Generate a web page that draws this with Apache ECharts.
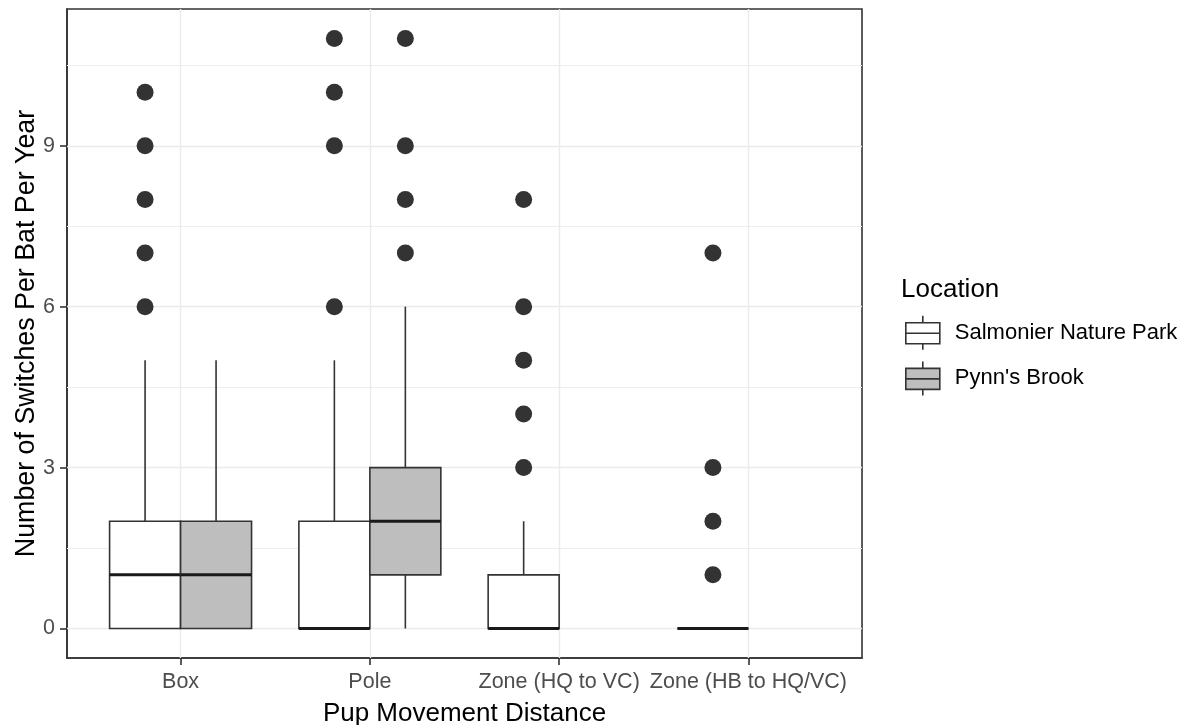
<!DOCTYPE html>
<html>
<head>
<meta charset="utf-8">
<title>Pup Movement Distance</title>
<script src="https://cdn.jsdelivr.net/npm/echarts@6/dist/echarts.min.js"></script>
<style>
  html, body { margin: 0; padding: 0; background: #ffffff; }
  #chart { width: 1188px; height: 725px; }
</style>
</head>
<body>
<div id="chart"></div>
<script>
// Categories along the x axis and the two locations compared in each.
const categories = ['Box', 'Pole', 'Zone (HQ to VC)', 'Zone (HB to HQ/VC)'];
const locations = ['Salmonier Nature Park', "Pynn's Brook"];

// Five-number summaries: [lower whisker, Q1, median, Q3, upper whisker]; null = no data.
const salmonierBoxes = [[0, 0, 1, 2, 5], [0, 0, 0, 2, 5], [0, 0, 0, 1, 2], [0, 0, 0, 0, 0]];
const pynnsBoxes = [[0, 0, 1, 2, 5], [0, 1, 2, 3, 6], null, null];

// Outlying observations for each category.
const salmonierOutliers = [[6, 7, 8, 9, 10], [6, 9, 10, 11], [3, 4, 5, 6, 8], [1, 2, 3, 7]];
const pynnsOutliers = [[], [7, 8, 9, 11], [], []];

// Axis ticks and minor grid positions.
const yTicks = [0, 3, 6, 9];
const yMinor = [1.5, 4.5, 7.5, 10.5];
const xTicks = [1, 2, 3, 4];

const DODGE = 0.75;           // total width shared by the two boxes of a category
const BOX_W = DODGE / 2;      // width of a single box
const EDGE = '#333333';
const FONT = 'Liberation Sans, Arial, sans-serif';

function offsetFor(groupIdx) {
  return (groupIdx - 0.5) * BOX_W;
}

function boxRows(stats, groupIdx) {
  const rows = [];
  stats.forEach((s, i) => {
    if (s) rows.push([i + 1 + offsetFor(groupIdx)].concat(s));
  });
  return rows;
}

function outlierRows(list, groupIdx) {
  const rows = [];
  list.forEach((vals, i) => {
    vals.forEach(v => rows.push([i + 1 + offsetFor(groupIdx), v]));
  });
  return rows;
}

function makeRenderer(fill) {
  return function (params, api) {
    const x = api.value(0);
    const lo = api.coord([x, api.value(1)]);
    const q1 = api.coord([x, api.value(2)]);
    const med = api.coord([x, api.value(3)]);
    const q3 = api.coord([x, api.value(4)]);
    const hi = api.coord([x, api.value(5)]);
    const half = api.size([BOX_W, 0])[0] / 2;
    const edge = { stroke: EDGE, lineWidth: 1.6 };
    return {
      type: 'group',
      children: [
        { type: 'line', shape: { x1: lo[0], y1: lo[1], x2: q1[0], y2: q1[1] }, style: edge },
        { type: 'line', shape: { x1: q3[0], y1: q3[1], x2: hi[0], y2: hi[1] }, style: edge },
        { type: 'rect', shape: { x: q3[0] - half, y: q3[1], width: half * 2, height: q1[1] - q3[1] },
          style: { fill: fill, stroke: EDGE, lineWidth: 1.6 } },
        { type: 'line', shape: { x1: med[0] - half, y1: med[1], x2: med[0] + half, y2: med[1] },
          style: { stroke: '#1a1a1a', lineWidth: 3 } }
      ]
    };
  };
}

// Legend glyph: a small box with median line and whisker stubs.
const boxGlyph = 'path://M0 7 H34 V28 H0 Z M0 17.5 H34 M17 0 V7 M17 28 V34';

const chart = echarts.init(document.getElementById('chart'), null, { renderer: 'canvas' });

const gridLines = []
  .concat(yTicks.map(v => ({ yAxis: v, lineStyle: { type: 'solid', width: 1.4, color: '#ebebeb' } })))
  .concat(yMinor.map(v => ({ yAxis: v, lineStyle: { type: 'solid', width: 1, color: '#eeeeee' } })))
  .concat(xTicks.map(v => ({ xAxis: v, lineStyle: { type: 'solid', width: 1.4, color: '#ebebeb' } })));

const option = {
  animation: false,
  backgroundColor: '#ffffff',
  textStyle: { fontFamily: FONT },
  title: {
    text: 'Location',
    left: 901,
    top: 277,
    padding: 0,
    textStyle: { fontSize: 26, fontWeight: 'normal', color: '#000000', fontFamily: FONT }
  },
  legend: {
    orient: 'vertical',
    left: 905,
    top: 315,
    padding: 0,
    itemWidth: 34,
    itemHeight: 34,
    itemGap: 10,
    selectedMode: false,
    textStyle: { fontSize: 22, color: '#000000', padding: [0, 0, 0, 10], fontFamily: FONT },
    data: [
      { name: locations[0], icon: boxGlyph, itemStyle: { color: '#ffffff', borderColor: EDGE, borderWidth: 1.6 } },
      { name: locations[1], icon: boxGlyph, itemStyle: { color: '#bebebe', borderColor: EDGE, borderWidth: 1.6 } }
    ]
  },
  grid: {
    left: 67, top: 9, right: 326, bottom: 67,
    containLabel: false,
    outerBoundsMode: 'none',
    show: true, borderColor: EDGE, borderWidth: 1.6, backgroundColor: '#ffffff'
  },
  xAxis: {
    type: 'value',
    min: 0.4,
    max: 4.6,
    name: 'Pup Movement Distance',
    nameLocation: 'middle',
    nameGap: 43,
    nameMoveOverlap: false,
    nameTextStyle: { fontSize: 26, color: '#000000' },
    axisLine: { show: true, onZero: false, lineStyle: { color: EDGE, width: 1.6 } },
    splitLine: { show: false },
    axisTick: { show: true, inside: false, length: 7, customValues: xTicks, lineStyle: { color: EDGE, width: 1.6 } },
    axisLabel: {
      customValues: xTicks,
      margin: 13,
      fontSize: 21.5,
      color: '#4d4d4d',
      formatter: v => categories[Math.round(v) - 1]
    }
  },
  yAxis: {
    type: 'value',
    min: -0.55,
    max: 11.55,
    name: 'Number of Switches Per Bat Per Year',
    nameLocation: 'middle',
    nameGap: 27,
    nameMoveOverlap: false,
    nameTextStyle: { fontSize: 26.8, color: '#000000' },
    axisLine: { show: true, onZero: false, lineStyle: { color: EDGE, width: 1.6 } },
    splitLine: { show: false },
    axisTick: { show: true, inside: false, length: 7, customValues: yTicks, lineStyle: { color: EDGE, width: 1.6 } },
    axisLabel: { customValues: yTicks, margin: 12, fontSize: 21.5, color: '#4d4d4d' }
  },
  series: [
    {
      name: locations[0],
      type: 'custom',
      z: 10,
      itemStyle: { color: '#ffffff', borderColor: EDGE, borderWidth: 1.6 },
      renderItem: makeRenderer('#ffffff'),
      encode: { x: 0, y: [1, 2, 3, 4, 5] },
      data: boxRows(salmonierBoxes, 0)
    },
    {
      name: locations[1],
      type: 'custom',
      z: 10,
      itemStyle: { color: '#bebebe', borderColor: EDGE, borderWidth: 1.6 },
      renderItem: makeRenderer('#bebebe'),
      encode: { x: 0, y: [1, 2, 3, 4, 5] },
      data: boxRows(pynnsBoxes, 1)
    },
    {
      name: 'outliers',
      type: 'scatter',
      z: 11,
      symbol: 'circle',
      symbolSize: 17,
      itemStyle: { color: '#333333', opacity: 1 },
      silent: true,
      data: outlierRows(salmonierOutliers, 0).concat(outlierRows(pynnsOutliers, 1)),
      markLine: {
        z: 1,
        silent: true,
        symbol: 'none',
        label: { show: false },
        data: gridLines
      }
    }
  ]
};

chart.setOption(option);
</script>
</body>
</html>
